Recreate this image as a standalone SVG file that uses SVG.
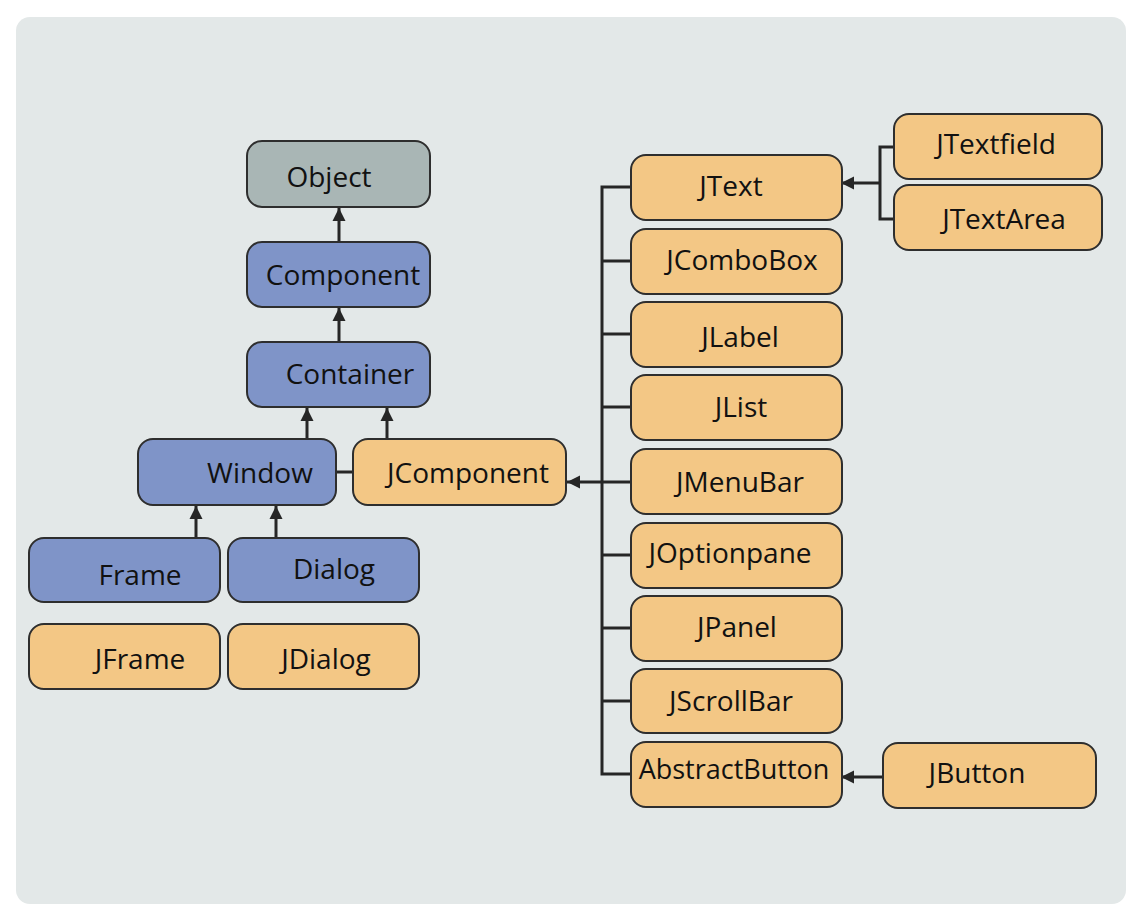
<svg xmlns="http://www.w3.org/2000/svg" width="1136" height="908" viewBox="0 0 1136 908">
<style>
.n rect{stroke:#2e2e2e;stroke-width:2}
.blue rect{fill:#7f94c8}
.org rect{fill:#f3c785}
.gry rect{fill:#a9b6b5}
text{font-family:"Open Sans","Noto Sans","Liberation Sans",sans-serif;font-size:28px;fill:#111111;text-anchor:middle}
.c line,.c path{stroke:#262626;stroke-width:3;fill:none}
</style>
<defs>
<marker id="ah" markerUnits="userSpaceOnUse" markerWidth="14" markerHeight="14" refX="13" refY="7" orient="auto">
<path d="M0,0.5 L13,7 L0,13.5 z" fill="#262626"/>
</marker>
</defs>
<rect x="0" y="0" width="1136" height="908" fill="#ffffff"/>
<rect x="16" y="17" width="1110" height="887" rx="14" fill="#e3e8e8"/>

<g class="c" id="connectors">
<line x1="339" y1="242" x2="339" y2="208" marker-end="url(#ah)"/>
<line x1="339" y1="342" x2="339" y2="308" marker-end="url(#ah)"/>
<line x1="307" y1="439" x2="307" y2="408" marker-end="url(#ah)"/>
<line x1="387" y1="439" x2="387" y2="408" marker-end="url(#ah)"/>
<line x1="336" y1="472" x2="353" y2="472"/>
<line x1="196" y1="538" x2="196" y2="506" marker-end="url(#ah)"/>
<line x1="276" y1="538" x2="276" y2="506" marker-end="url(#ah)"/>
<path d="M631,187 H602 V774 H631"/>
<line x1="602" y1="261" x2="631" y2="261"/>
<line x1="602" y1="334" x2="631" y2="334"/>
<line x1="602" y1="407" x2="631" y2="407"/>
<line x1="602" y1="555" x2="631" y2="555"/>
<line x1="602" y1="628" x2="631" y2="628"/>
<line x1="602" y1="701" x2="631" y2="701"/>
<line x1="631" y1="482" x2="567" y2="482" marker-end="url(#ah)"/>
<path d="M894,147 H880 V219 H894"/>
<line x1="880" y1="183" x2="841" y2="183" marker-end="url(#ah)"/>
<line x1="883" y1="777" x2="841" y2="777" marker-end="url(#ah)"/>
</g>

<g id="object" class="n gry"><rect x="247" y="141" width="183" height="66" rx="15"/><text x="329" y="187">Object</text></g>
<g id="component" class="n blue"><rect x="247" y="242" width="183" height="65" rx="15"/><text x="343" y="285">Component</text></g>
<g id="container" class="n blue"><rect x="247" y="342" width="183" height="65" rx="15"/><text x="350" y="384">Container</text></g>
<g id="window" class="n blue"><rect x="138" y="439" width="198" height="66" rx="15"/><text x="260" y="483">Window</text></g>
<g id="jcomponent" class="n org"><rect x="353" y="439" width="213" height="66" rx="15"/><text x="468" y="483">JComponent</text></g>
<g id="frame" class="n blue"><rect x="29" y="538" width="191" height="64" rx="15"/><text x="140" y="585">Frame</text></g>
<g id="dialog" class="n blue"><rect x="228" y="538" width="191" height="64" rx="15"/><text x="334" y="579">Dialog</text></g>
<g id="jframe" class="n org"><rect x="29" y="624" width="191" height="65" rx="15"/><text x="140" y="669">JFrame</text></g>
<g id="jdialog" class="n org"><rect x="228" y="624" width="191" height="65" rx="15"/><text x="326" y="669">JDialog</text></g>

<g id="jtext" class="n org"><rect x="631" y="155" width="211" height="65" rx="15"/><text x="731" y="196">JText</text></g>
<g id="jcombobox" class="n org"><rect x="631" y="229" width="211" height="65" rx="15"/><text x="742" y="270">JComboBox</text></g>
<g id="jlabel" class="n org"><rect x="631" y="302" width="211" height="65" rx="15"/><text x="740" y="347">JLabel</text></g>
<g id="jlist" class="n org"><rect x="631" y="375" width="211" height="65" rx="15"/><text x="741" y="417">JList</text></g>
<g id="jmenubar" class="n org"><rect x="631" y="449" width="211" height="65" rx="15"/><text x="740" y="492">JMenuBar</text></g>
<g id="joptionpane" class="n org"><rect x="631" y="523" width="211" height="65" rx="15"/><text x="730" y="563">JOptionpane</text></g>
<g id="jpanel" class="n org"><rect x="631" y="596" width="211" height="65" rx="15"/><text x="737" y="637">JPanel</text></g>
<g id="jscrollbar" class="n org"><rect x="631" y="669" width="211" height="64" rx="15"/><text x="731" y="711">JScrollBar</text></g>
<g id="abstractbutton" class="n org"><rect x="631" y="742" width="211" height="65" rx="15"/><text x="734" y="779" style="font-size:27px">AbstractButton</text></g>
<g id="jtextfield" class="n org"><rect x="894" y="114" width="208" height="65" rx="15"/><text x="996" y="154">JTextfield</text></g>
<g id="jtextarea" class="n org"><rect x="894" y="185" width="208" height="65" rx="15"/><text x="1004" y="229">JTextArea</text></g>
<g id="jbutton" class="n org"><rect x="883" y="743" width="213" height="65" rx="15"/><text x="977" y="783">JButton</text></g>
</svg>
